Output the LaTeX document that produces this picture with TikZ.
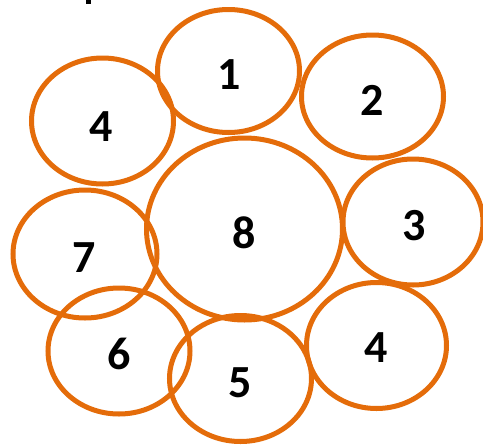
\documentclass[tikz,border=0pt]{standalone}
\usepackage{fontspec}
\setmainfont{Carlito}
\usetikzlibrary{shapes.geometric}
\definecolor{ringorange}{RGB}{228,108,10}
\tikzset{
  ringline/.style={draw=ringorange, line width=5pt},
  numlabel/.style={font=\fontsize{46}{46}\selectfont\bfseries, text=black, inner sep=0pt}
}
\begin{document}
\begin{tikzpicture}[x=1pt,y=-1pt]
\useasboundingbox (0,0) rectangle (483,448);
\fill[black] (86,0) rectangle (91,4);
\draw[ringline] (228.5,71) ellipse [x radius=71, y radius=61.5];
\draw[ringline] (372.5,96.5) ellipse [x radius=71, y radius=61.5];
\draw[ringline] (102.5,121) ellipse [x radius=71, y radius=63];
\draw[ringline] (244.5,229) ellipse [x radius=98, y radius=91];
\draw[ringline] (413,222) ellipse [x radius=70, y radius=63];
\draw[ringline] (85,254) ellipse [x radius=72, y radius=64];
\draw[ringline] (119,351) ellipse [x radius=71, y radius=63];
\draw[ringline] (240.5,378.5) ellipse [x radius=71, y radius=63];
\draw[ringline] (376.5,345.5) ellipse [x radius=70, y radius=63];
\node[numlabel] (n1) at (229,75) {1};
\node[numlabel] (n2) at (372,100) {2};
\node[numlabel] (n4a) at (101,127) {4};
\node[numlabel] (n8) at (244,233) {8};
\node[numlabel] (n3) at (414,226) {3};
\node[numlabel] (n7) at (84,258) {7};
\node[numlabel] (n6) at (119,354) {6};
\node[numlabel] (n5) at (240,383) {5};
\node[numlabel] (n4b) at (376,348) {4};
\end{tikzpicture}
\end{document}
